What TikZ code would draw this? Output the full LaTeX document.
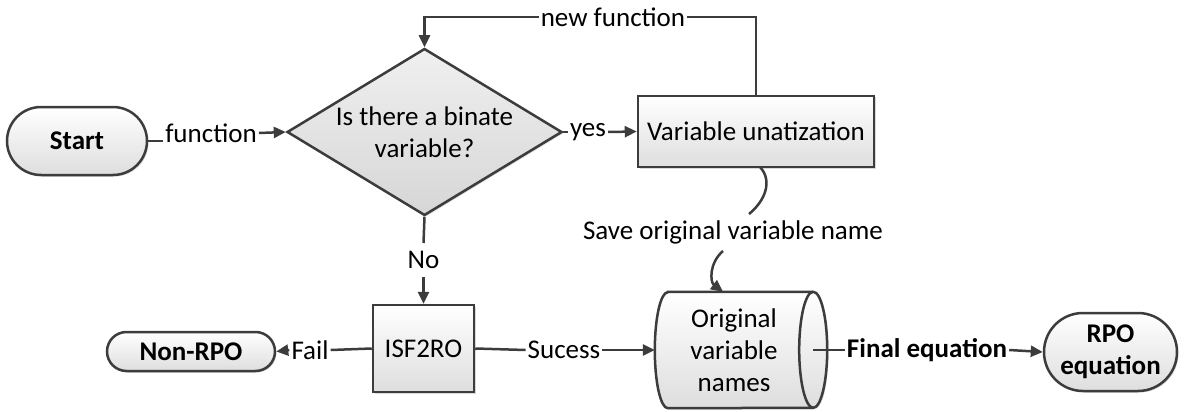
\documentclass[tikz,border=0pt]{standalone}
\usepackage{fontspec}
\setmainfont{Carlito}
\usetikzlibrary{arrows.meta,shapes.geometric,backgrounds,shadows}
\definecolor{edge}{HTML}{3C3C3C}
\newcommand{\bigtext}{\fontsize{27}{32}\selectfont}
\tikzset{
  softshadow/.style={drop shadow={shadow xshift=1.5pt, shadow yshift=-1.5pt, opacity=0.15, fill=black}},
  shapefill/.style={top color=white, bottom color=black!13},
  base/.style={draw=edge, line width=2.5pt, shapefill, softshadow, inner sep=0pt, align=center, font=\bigtext},
  terminal/.style={base, rectangle, font=\bigtext\bfseries},
  proc/.style={base, rectangle},
  decision/.style={base, diamond, top color=black!6, bottom color=black!16},
  txt/.style={inner sep=0pt, align=center, font=\bigtext},
  lbl/.style={inner sep=2pt, font=\bigtext},
  conn/.style={draw=edge, line width=2.5pt},
  arr/.style={conn, -{Triangle[length=12pt,width=11pt]}},
}
\begin{document}
\begin{tikzpicture}[x=1pt,y=1pt]
\useasboundingbox (0,0) rectangle (1184,-412);

% ---- shapes ----
\node[terminal, minimum width=140pt, minimum height=68pt, rounded corners=34pt] (start) at (77,-141) {Start};
\node[decision, minimum width=275pt, minimum height=167pt] (dia) at (424.5,-132) {};
\node[txt] (diatext) at (dia.center) {Is there a binate\\variable?};
\node[proc, minimum width=236pt, minimum height=71pt] (vu) at (756,-131.5) {Variable unatization};
\node[proc, minimum width=101pt, minimum height=87pt] (isf) at (423.5,-348.5) {ISF2RO};
\node[terminal, minimum width=168pt, minimum height=39pt, rounded corners=19.5pt] (nonrpo) at (191,-351.5) {Non-RPO};
\node[terminal, minimum width=133pt, minimum height=78pt, rounded corners=39pt] (rpo) at (1110.5,-352) {RPO\\equation};
\node[txt, minimum width=158pt, minimum height=116pt] (orig) at (734,-350) {Original\\variable\\names};

% stored-data cylinder drawn behind its text
\begin{scope}[on background layer]
  \path[draw=edge, line width=2.5pt, shapefill, softshadow]
    ([xshift=13pt]orig.north west) -- (orig.north east)
    arc[start angle=90, end angle=-90, x radius=14pt, y radius=58pt]
    -- ([xshift=13pt]orig.south west)
    arc[start angle=270, end angle=90, x radius=13pt, y radius=58pt] -- cycle;
  \draw[conn] (orig.north east) arc[start angle=90, end angle=270, x radius=14pt, y radius=58pt];
\end{scope}

% ---- connector labels ----
\node[lbl] (flab) at (211,-133) {function};
\node[lbl] (ylab) at (588,-132) {yes};
\node[lbl] (nflab) at (613,-17) {new function};
\node[lbl] (save) at (733,-232) {Save original variable name};
\node[lbl] (nolab) at (423.5,-260) {No};
\node[lbl] (faillab) at (310,-350) {Fail};
\node[lbl] (suclab) at (564,-350) {Sucess};
\node[lbl, font=\bigtext\bfseries] (fel) at (927,-350) {Final equation};

% ---- connectors ----
\draw[conn] (start.east) -- (start.east -| flab.west);
\draw[arr] (flab.east) -- (dia.west);

\draw[conn] (dia.east) -- (ylab.west);
\draw[arr] (ylab.east) -- (vu.west);

\draw[conn] (vu.north) -- (vu.north |- nflab.east) -- (nflab.east);
\draw[arr] (nflab.west) -- (dia.north |- nflab.west) -- (dia.north);

\coordinate (saveout) at (760,-167);
\coordinate (savein) at (749,-214);
\coordinate (saveout2) at (723,-251);
\draw[conn] (saveout) .. controls (773,-181) and (765,-201) .. (savein);
\draw[arr] (saveout2) .. controls (709,-263) and (710,-282) .. ([xshift=-11pt]orig.north);

\coordinate (noend) at (423.5,-243);
\coordinate (nostart) at (423.5,-277);
\draw[conn] (dia.south) -- (noend);
\draw[arr] (nostart) -- (isf.north);

\draw[conn] (isf.west) -- (faillab.east);
\draw[arr] (faillab.west) -- (nonrpo.east);

\draw[conn] (isf.east) -- (suclab.west);
\draw[arr] (suclab.east) -- (orig.west);

\draw[conn] (orig.east) -- (fel.west);
\draw[arr] (fel.east) -- (rpo.west);
\end{tikzpicture}
\end{document}
